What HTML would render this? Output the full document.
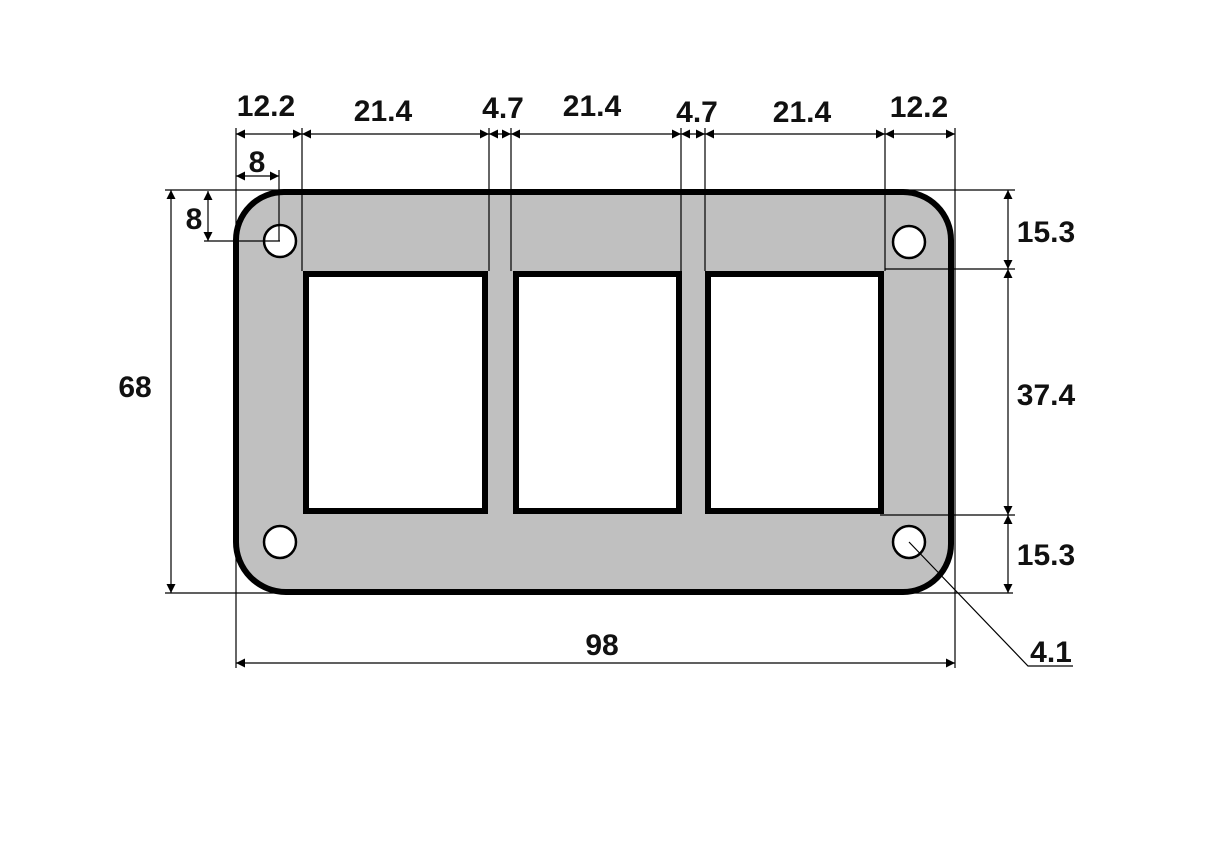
<!DOCTYPE html>
<html><head><meta charset="utf-8"><style>
html,body{margin:0;padding:0;background:#fff;width:1210px;height:841px;overflow:hidden}
text{font-family:"Liberation Sans",Arial,sans-serif;font-weight:bold;font-size:30px;fill:#111}
</style></head><body>
<svg width="1210" height="841" viewBox="0 0 1210 841" xmlns="http://www.w3.org/2000/svg">
<defs>
<marker id="a" viewBox="0 0 10 10" refX="10" refY="5" markerWidth="9" markerHeight="9" markerUnits="userSpaceOnUse" orient="auto-start-reverse"><path d="M0,0 L10,5 L0,10 z" fill="#000"/></marker>
</defs>
<path d="M286,192 H903 A48,48 0 0 1 951,240 V544 A48,48 0 0 1 903,592 H286 A50,50 0 0 1 236,542 V240 A48,48 0 0 1 284,192 Z" fill="#c0c0c0" stroke="#000" stroke-width="6"/>
<g fill="#fff" stroke="#000" stroke-width="6">
<rect x="306" y="274" width="179" height="237"/>
<rect x="516" y="274" width="163" height="237"/>
<rect x="708" y="274" width="173" height="237"/>
</g>
<g fill="#fff" stroke="#000" stroke-width="2.5">
<circle cx="280" cy="241" r="16"/><circle cx="909" cy="242" r="16"/>
<circle cx="280" cy="542" r="16"/><circle cx="909" cy="542" r="16"/>
</g>
<g stroke="#000" stroke-width="1.2" fill="none">
<path d="M236,128 V668 M302,128 V271 M489,128 V271 M511,128 V271 M681,128 V271 M705,128 V271 M885,128 V271 M955,128 V668"/>
<path d="M165,190 H1015 M165,593 H1013 M885,269 H1015 M880,515 H1015"/>
<path d="M279,170 V241 M204,241 H280"/>
<path d="M909,542 L1028,666 H1073"/>
</g>
<g stroke="#000" stroke-width="1.2" marker-start="url(#a)" marker-end="url(#a)">
<line x1="236" y1="134" x2="302" y2="134"/>
<line x1="302" y1="134" x2="489" y2="134"/>
<line x1="489" y1="134" x2="511" y2="134"/>
<line x1="511" y1="134" x2="681" y2="134"/>
<line x1="681" y1="134" x2="705" y2="134"/>
<line x1="705" y1="134" x2="885" y2="134"/>
<line x1="885" y1="134" x2="955" y2="134"/>
<line x1="236" y1="176" x2="279" y2="176"/>
<line x1="208" y1="191" x2="208" y2="241"/>
<line x1="171" y1="190" x2="171" y2="593"/>
<line x1="1008" y1="190" x2="1008" y2="269"/>
<line x1="1008" y1="269" x2="1008" y2="515"/>
<line x1="1008" y1="515" x2="1008" y2="593"/>
<line x1="236" y1="663" x2="955" y2="663"/>
</g>
<g text-anchor="middle">
<text x="266" y="116">12.2</text>
<text x="383" y="121">21.4</text>
<text x="503" y="118">4.7</text>
<text x="592" y="116">21.4</text>
<text x="697" y="122">4.7</text>
<text x="802" y="122">21.4</text>
<text x="919" y="117">12.2</text>
<text x="257" y="172">8</text>
<text x="194" y="229">8</text>
<text x="135" y="397">68</text>
<text x="1046" y="242">15.3</text>
<text x="1046" y="405">37.4</text>
<text x="1046" y="565">15.3</text>
<text x="602" y="655">98</text>
<text x="1051" y="662">4.1</text>
</g>
</svg>
</body></html>
